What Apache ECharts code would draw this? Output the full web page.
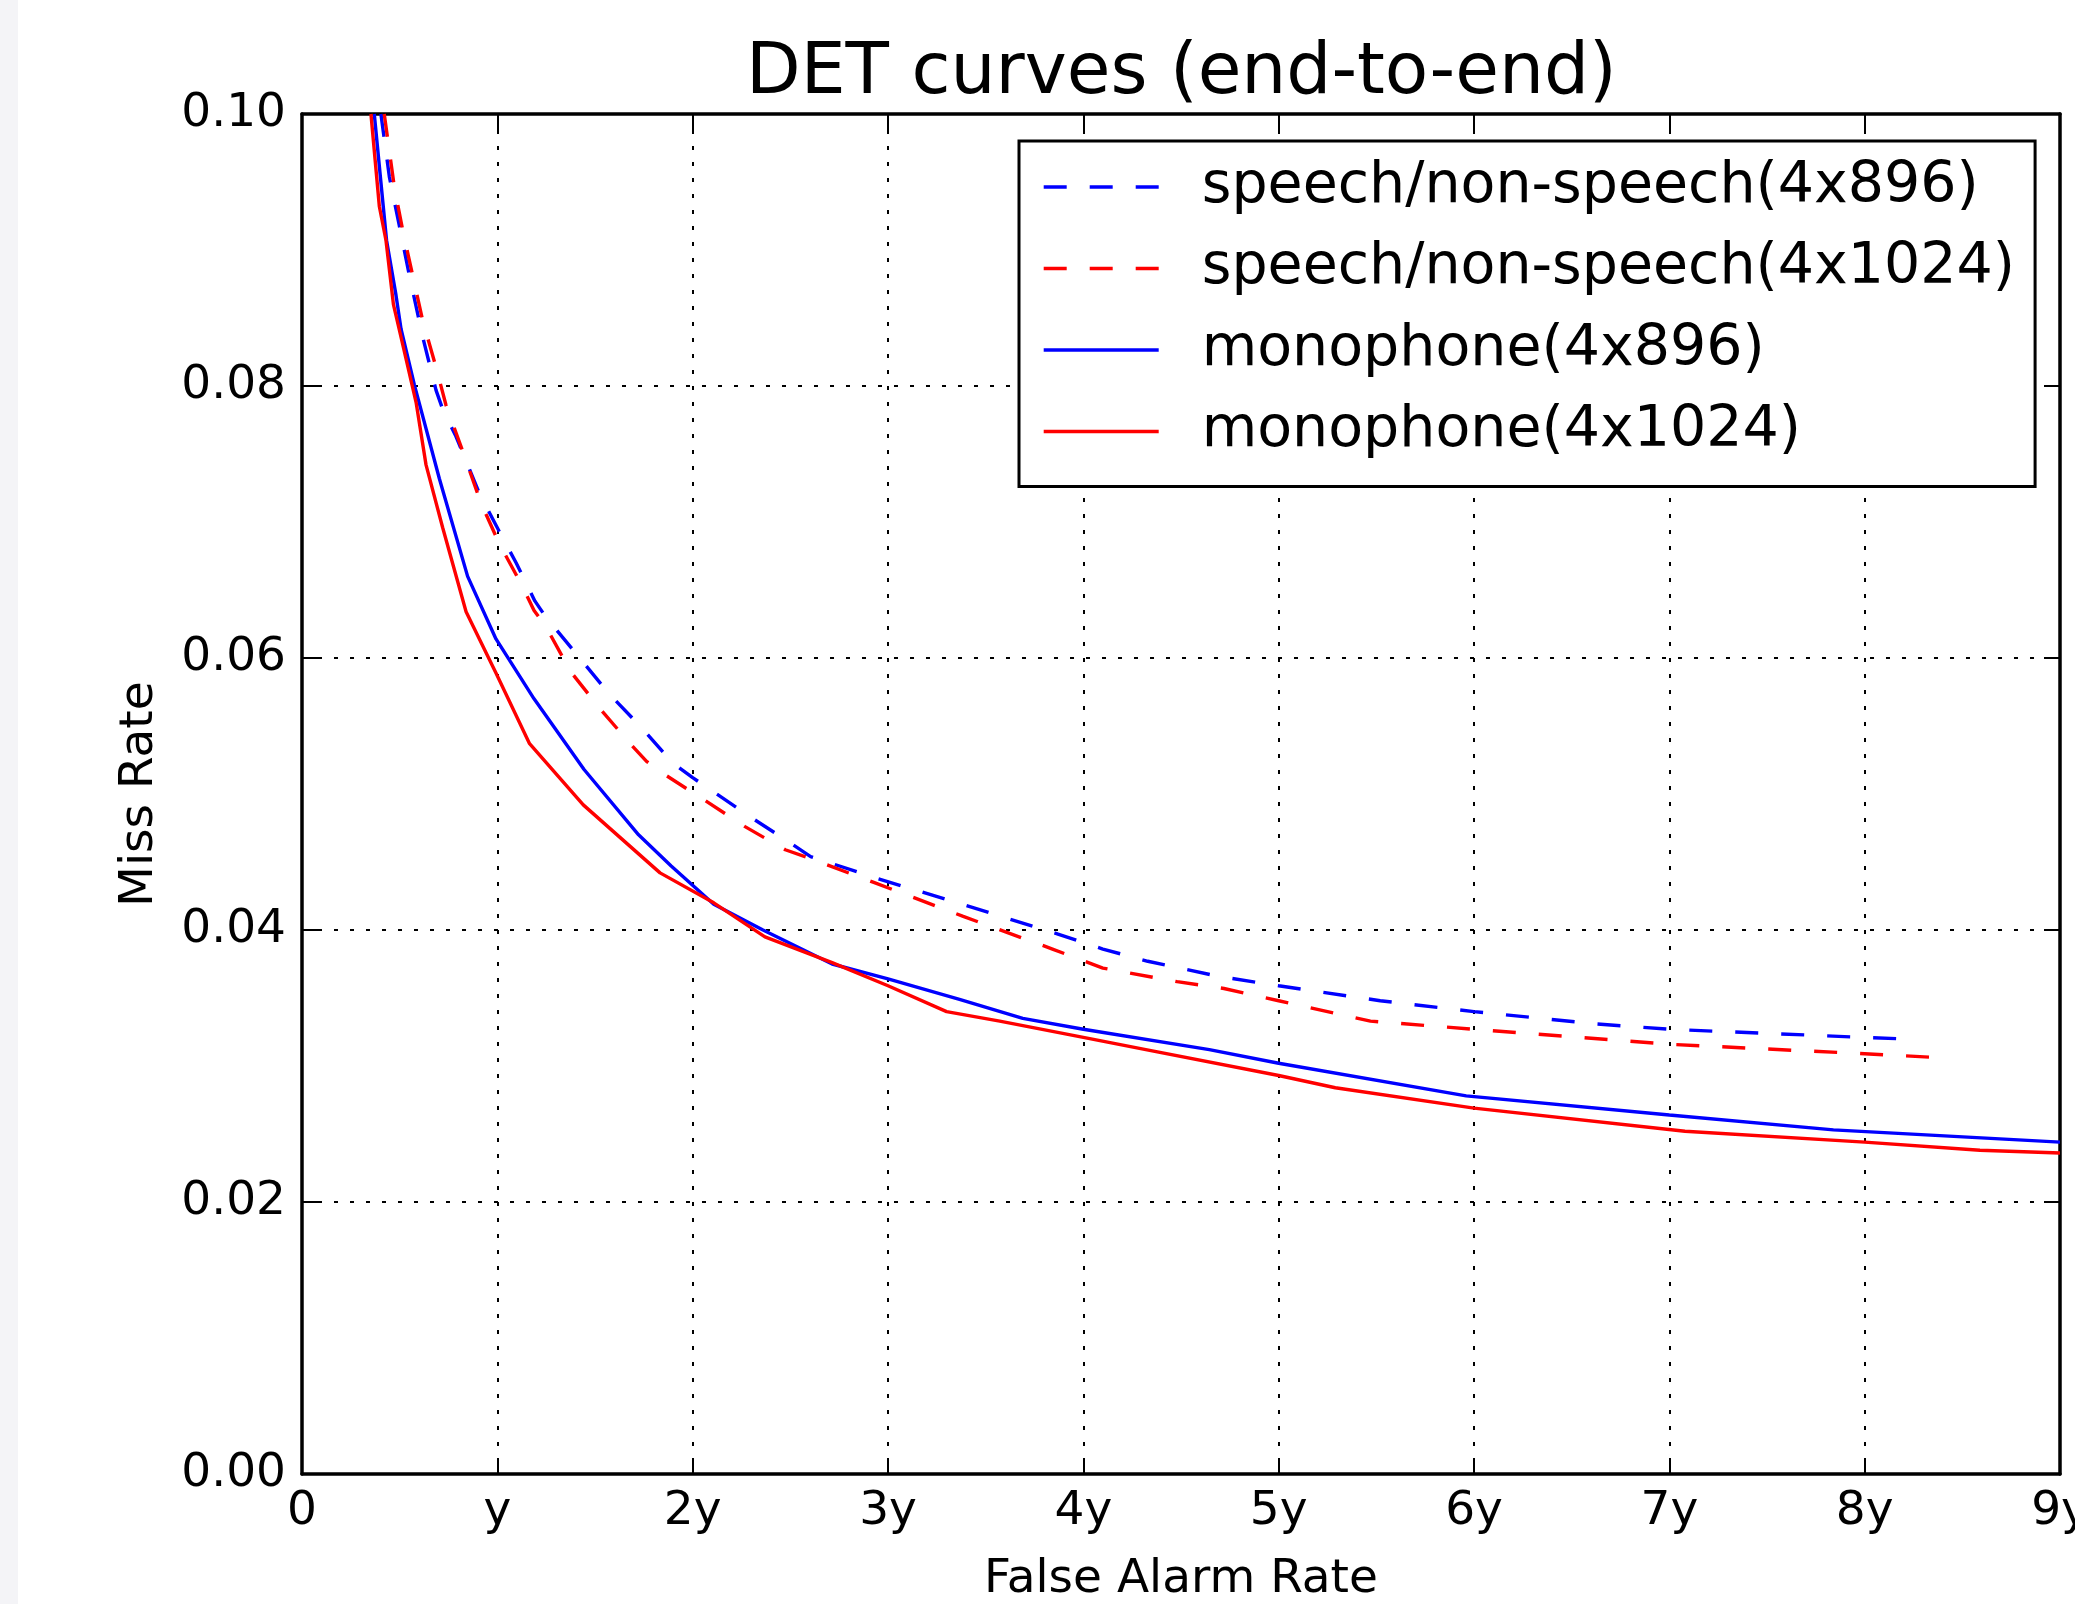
<!DOCTYPE html>
<html>
<head>
<meta charset="utf-8">
<script src="https://cdn.jsdelivr.net/npm/echarts@6/dist/echarts.min.js"></script>
<style>
  html, body { margin: 0; padding: 0; overflow: hidden; }
  body { background: linear-gradient(to right, #f4f4f7 0, #f4f4f7 18px, #ffffff 18px); }
  #chart { width: 2075px; height: 1604px; }
</style>
</head>
<body>
<div id="chart"></div>
<script>
// ---- data ----
const titleText = 'DET curves (end-to-end)';
const xName = 'False Alarm Rate';
const yName = 'Miss Rate';
const xTickLabels = ['0', 'y', '2y', '3y', '4y', '5y', '6y', '7y', '8y', '9y'];
const yTickLabels = ['0.00', '0.02', '0.04', '0.06', '0.08', '0.10'];
const seriesNames = ['speech/non-speech(4x896)', 'speech/non-speech(4x1024)', 'monophone(4x896)', 'monophone(4x1024)'];

const speech896 = [
  [0.404, 0.1000], [0.447, 0.0954], [0.498, 0.0918], [0.55, 0.0881], [0.618, 0.0836], [0.686, 0.0797],
  [0.72, 0.0783], [0.788, 0.0763], [0.908, 0.0721], [1.01, 0.0693], [1.096, 0.0670], [1.192, 0.0642],
  [1.249, 0.0630], [1.416, 0.0601], [1.57, 0.0574], [1.737, 0.0549], [1.897, 0.0523], [2.0, 0.0512],
  [2.297, 0.0483], [2.50, 0.0464], [2.604, 0.0454], [2.943, 0.0438], [3.40, 0.0418], [3.87, 0.0397],
  [4.10, 0.0386], [4.33, 0.0377], [4.69, 0.0366], [5.0, 0.0359], [5.52, 0.0348], [6.0, 0.0340],
  [6.62, 0.0331], [7.0, 0.0327], [8.0, 0.0321], [8.18, 0.0320]
];
const speech1024 = [
  [0.421, 0.1000], [0.473, 0.0946], [0.515, 0.0915], [0.567, 0.0881], [0.618, 0.0848], [0.686, 0.0814],
  [0.737, 0.0786], [0.823, 0.0752], [0.916, 0.0714], [1.01, 0.0684], [1.12, 0.0655], [1.188, 0.0635],
  [1.249, 0.0623], [1.375, 0.0590], [1.524, 0.0563], [1.68, 0.0537], [1.764, 0.0524], [1.86, 0.0514],
  [2.066, 0.0495], [2.268, 0.0476], [2.474, 0.0459], [2.593, 0.0453], [2.927, 0.0435], [3.385, 0.0410],
  [3.842, 0.0386], [4.10, 0.0372], [4.48, 0.0362], [4.72, 0.0357], [5.0, 0.0348], [5.47, 0.0333],
  [6.0, 0.0327], [7.0, 0.0316], [8.0, 0.0309], [8.40, 0.0306]
];
const mono896 = [
  [0.37, 0.1000], [0.433, 0.0907], [0.481, 0.0867], [0.507, 0.0842], [0.575, 0.0801], [0.703, 0.0732],
  [0.848, 0.0660], [0.993, 0.0614], [1.188, 0.0570], [1.444, 0.0518], [1.723, 0.0470], [1.89, 0.0447],
  [2.108, 0.0419], [2.36, 0.0400], [2.714, 0.0375], [3.0, 0.0364], [3.366, 0.0349], [3.69, 0.0335],
  [4.0, 0.0327], [4.645, 0.0312], [5.0, 0.0302], [5.96, 0.0278], [7.0, 0.0264], [7.84, 0.0253], [9.0, 0.0244]
];
const mono1024 = [
  [0.353, 0.1000], [0.396, 0.0932], [0.43, 0.0907], [0.468, 0.0860], [0.507, 0.0836], [0.584, 0.0788],
  [0.635, 0.0742], [0.72, 0.0696], [0.84, 0.0634], [0.993, 0.0589], [1.165, 0.0537], [1.44, 0.0492],
  [1.833, 0.0442], [2.108, 0.0420], [2.37, 0.0395], [2.714, 0.0376], [3.0, 0.0359], [3.30, 0.0340],
  [3.572, 0.0333], [4.0, 0.0321], [4.32, 0.0312], [5.0, 0.0293], [5.29, 0.0284], [6.0, 0.0269],
  [7.08, 0.0252], [8.0, 0.0244], [8.59, 0.0238], [9.0, 0.0236]
];

// ---- styling ----
const FONT = 'DejaVu Sans';
const BLUE = '#0000ff';
const RED = '#ff0000';
const DASH = [23, 23];
const LW = 3.4;
const FRAME = 3.5;

const chart = echarts.init(document.getElementById('chart'), null, { renderer: 'canvas' });

const tickStyle = { show: true, inside: true, length: 16, lineStyle: { color: '#000', width: 2 } };
const gridLine = { show: true, lineStyle: { color: '#000', width: 2, type: [4, 12] } };
const axisLineStyle = { show: true, onZero: false, lineStyle: { color: '#000', width: FRAME } };

function lineSeries(name, data, color, dashed) {
  return {
    name: name, type: 'line', data: data, symbol: 'none', showSymbol: false,
    lineStyle: { color: color, width: LW, type: dashed ? DASH : 'solid', cap: 'butt' },
    itemStyle: { color: color },
    clip: true, animation: false
  };
}

chart.setOption({
  backgroundColor: 'transparent',
  animation: false,
  textStyle: { fontFamily: FONT },
  title: {
    text: titleText, left: 746, top: 39, padding: 0,
    textStyle: { fontFamily: FONT, fontSize: 71, fontWeight: 'normal', color: '#000', lineHeight: 71 }
  },
  grid: { left: 302, top: 114, width: 1758, height: 1360, containLabel: false, outerBoundsMode: 'none' },
  legend: {
    orient: 'vertical', left: 1019, top: 141, padding: [16, 20, 25, 23],
    borderColor: '#000', borderWidth: 3, backgroundColor: '#fff', borderRadius: 0,
    itemWidth: 115, itemHeight: 20, itemGap: 21.5,
    itemStyle: { opacity: 0, borderWidth: 0 },
    lineStyle: { width: LW, cap: 'butt' },
    data: seriesNames,
    textStyle: { fontFamily: FONT, fontSize: 57, color: '#000', lineHeight: 60, padding: [0, 0, 0, 38] }
  },
  xAxis: [
    {
      type: 'value', min: 0, max: 9, interval: 1, position: 'bottom',
      name: xName, nameLocation: 'middle', nameGap: 82,
      nameTextStyle: { fontFamily: FONT, fontSize: 47, color: '#000', lineHeight: 47 },
      axisLine: axisLineStyle, axisTick: tickStyle, splitLine: gridLine,
      axisLabel: {
        show: true, margin: 14, fontFamily: FONT, fontSize: 47, color: '#000', lineHeight: 47,
        showMinLabel: true, showMaxLabel: true, hideOverlap: false,
        formatter: function (v) { return xTickLabels[Math.round(v)]; }
      }
    },
    {
      type: 'value', min: 0, max: 9, interval: 1, position: 'top',
      axisLine: axisLineStyle, axisTick: tickStyle, splitLine: { show: false }, axisLabel: { show: false }
    }
  ],
  yAxis: [
    {
      type: 'value', min: 0, max: 0.1, interval: 0.02, position: 'left',
      name: yName, nameLocation: 'middle', nameGap: 139,
      nameTextStyle: { fontFamily: FONT, fontSize: 47, color: '#000', lineHeight: 47 },
      axisLine: axisLineStyle, axisTick: tickStyle, splitLine: gridLine,
      axisLabel: {
        show: true, margin: 16, fontFamily: FONT, fontSize: 47, color: '#000',
        showMinLabel: true, showMaxLabel: true,
        formatter: function (v) { return yTickLabels[Math.round(v / 0.02)]; }
      }
    },
    {
      type: 'value', min: 0, max: 0.1, interval: 0.02, position: 'right',
      axisLine: axisLineStyle, axisTick: tickStyle, splitLine: { show: false }, axisLabel: { show: false }
    }
  ],
  series: [
    lineSeries(seriesNames[0], speech896, BLUE, true),
    lineSeries(seriesNames[1], speech1024, RED, true),
    lineSeries(seriesNames[2], mono896, BLUE, false),
    lineSeries(seriesNames[3], mono1024, RED, false)
  ]
});
</script>
</body>
</html>
